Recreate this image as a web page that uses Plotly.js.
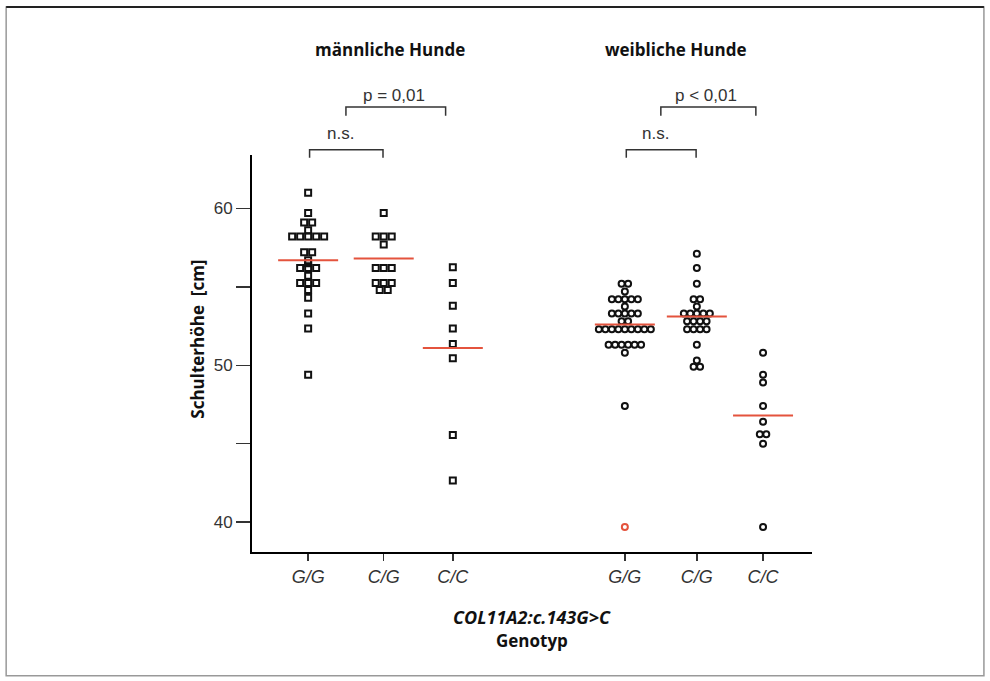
<!DOCTYPE html>
<html>
<head>
<meta charset="utf-8">
<script src="https://cdn.plot.ly/plotly-3.0.1.min.js"></script>
<style>
  html, body { margin: 0; padding: 0; background: #fff; }
  #chart { width: 990px; height: 681px; }
</style>
</head>
<body>
<div id="chart"></div>
<script>
// ---------- data ----------
const genotypes = ['G/G', 'C/G', 'C/C'];
const groupTitles = ['männliche Hunde', 'weibliche Hunde'];

// male dogs (squares), shoulder height in cm
const maleGG = [61.0, 59.7, 59.1, 59.1, 58.6, 58.2, 58.2, 58.2, 58.2, 58.2,
                57.2, 57.2, 56.7, 56.5, 56.2, 56.2, 56.2, 55.7,
                55.25, 55.25, 55.25, 54.8, 54.3, 53.3, 52.35, 49.4];
const maleCG = [59.7, 58.2, 58.2, 58.2, 57.7, 56.2, 56.2, 56.2,
                55.25, 55.25, 55.25, 54.8, 54.8];
const maleCC = [56.25, 55.25, 53.8, 52.35, 51.35, 50.45, 45.55, 42.65];

// female dogs (circles)
const femaleGG = [55.2, 55.2, 54.7, 54.2, 54.2, 54.2, 54.2, 54.2, 53.75,
                  53.3, 53.3, 53.3, 53.3, 53.3, 52.8, 52.8,
                  52.3, 52.3, 52.3, 52.3, 52.3, 52.3, 52.3, 52.3, 52.3,
                  51.3, 51.3, 51.3, 51.3, 51.3, 51.3, 50.8, 47.4];
const femaleGGOutlier = [39.7];
const femaleCG = [57.1, 56.2, 55.2, 54.2, 54.2, 53.75,
                  53.3, 53.3, 53.3, 53.3, 53.3,
                  52.8, 52.8, 52.8, 52.8, 52.3, 52.3, 52.3, 52.3,
                  51.3, 50.3, 49.9, 49.9];
const femaleCC = [50.8, 49.4, 48.9, 47.4, 46.4, 45.6, 45.6, 45.0, 39.7];

// group means (red bars)
const maleMeans = [56.7, 56.8, 51.1];
const femaleMeans = [52.6, 53.1, 46.8];

// significance labels
const maleTests = ['n.s.', 'p = 0,01'];
const femaleTests = ['n.s.', 'p < 0,01'];

const yTickValues = [40, 45, 50, 55, 60];
const yTickLabels = ['40', '', '50', '', '60'];

// ---------- layout constants ----------
const X_RANGE = [0.22, 8.0];
const PLOT_W = 560;
const PX = PLOT_W / (X_RANGE[1] - X_RANGE[0]);   // px per x unit
const malePos = [1.0, 2.05, 3.01];
const femalePos = [5.40, 6.40, 7.32];
const titleX = [2.137, 6.109];
const MEAN_HALF = 30 / PX;
const RED = '#e4533d';
const INK = '#111';

function swarm(values, center, spacingPx) {
  const counts = {};
  values.forEach(v => { counts[v] = (counts[v] || 0) + 1; });
  const seen = {};
  return values.map(v => {
    seen[v] = seen[v] === undefined ? 0 : seen[v] + 1;
    return center + (seen[v] - (counts[v] - 1) / 2) * spacingPx / PX;
  });
}

const traces = [];
function addGroup(values, center, symbol, color, spacing) {
  traces.push({
    type: 'scatter', mode: 'markers',
    x: swarm(values, center, spacing), y: values,
    marker: { symbol: symbol, size: 6, color: color, line: { width: 2, color: color } },
    hoverinfo: 'y', showlegend: false, cliponaxis: false
  });
}
[maleGG, maleCG, maleCC].forEach((v, i) => addGroup(v, malePos[i], 'square-open', INK, 8));
[femaleGG, femaleCG, femaleCC].forEach((v, i) => addGroup(v, femalePos[i], 'circle-open', INK, 6.5));
addGroup(femaleGGOutlier, femalePos[0], 'circle-open', RED, 6.5);

function addMean(m, c) {
  traces.push({
    type: 'scatter', mode: 'lines',
    x: [c - MEAN_HALF, c + MEAN_HALF], y: [m, m],
    line: { color: RED, width: 2 }, hoverinfo: 'skip', showlegend: false
  });
}
maleMeans.forEach((m, i) => addMean(m, malePos[i]));
femaleMeans.forEach((m, i) => addMean(m, femalePos[i]));

// ---------- annotations & shapes ----------
const boldFont = { family: 'Open Sans, sans-serif', size: 17, color: INK, weight: 'bold' };
const plainFont = { family: 'Liberation Sans, Arial, sans-serif', size: 17, color: '#333' };

const annotations = [];
const shapes = [];

function bracket(x1, x2, yTop, yBot) {
  shapes.push({
    type: 'path', xref: 'x', yref: 'paper',
    path: `M ${x1},${yBot} L ${x1},${yTop} L ${x2},${yTop} L ${x2},${yBot}`,
    line: { color: '#333', width: 1.5 }
  });
}

function groupAnnotations(pos, title, tests, tx) {
  annotations.push({ xref: 'x', yref: 'paper', x: tx, y: 1.265,
    text: '<b>' + title + '</b>', showarrow: false, font: boldFont, yanchor: 'middle' });
  // n.s. bracket between G/G and C/G
  bracket(pos[0] + 0.02, pos[1] - 0.01, 1.013, 0.993);
  annotations.push({ xref: 'x', yref: 'paper', x: (pos[0] + pos[1]) / 2 - 0.08, y: 1.055,
    text: tests[0], showarrow: false, font: plainFont, yanchor: 'middle' });
  // p bracket
  const pL = (pos[0] + pos[1]) / 2 + 0.0;
  bracket(pL, pos[2] - 0.1, 1.121, 1.099);
  annotations.push({ xref: 'x', yref: 'paper', x: (pL + pos[2]) / 2 - 0.08, y: 1.150,
    text: tests[1], showarrow: false, font: plainFont, yanchor: 'middle' });
}
groupAnnotations(malePos, groupTitles[0], maleTests, titleX[0]);
groupAnnotations(femalePos, groupTitles[1], femaleTests, titleX[1]);

// axis titles
annotations.push({ xref: 'paper', yref: 'paper', x: -0.098, y: 0.535, textangle: -90,
  text: '<b>Schulterhöhe\u00a0\u00a0[cm]</b>', showarrow: false, font: boldFont,
  xanchor: 'center', yanchor: 'middle' });
annotations.push({ xref: 'paper', yref: 'paper', x: 0.5, y: -0.164,
  text: '<b><i>COL11A2:c.143G&gt;C</i></b>', showarrow: false,
  font: Object.assign({}, boldFont, { size: 18 }), yanchor: 'middle' });
annotations.push({ xref: 'paper', yref: 'paper', x: 0.5, y: -0.222,
  text: '<b>Genotyp</b>', showarrow: false, font: boldFont, yanchor: 'middle' });

// frame around the figure
shapes.push({ type: 'rect', xref: 'paper', yref: 'paper', x0: -0.439, x1: 1.307, y0: -0.312, y1: 1.373,
  line: { color: '#999', width: 1.5 } });
shapes.push({ type: 'line', xref: 'paper', yref: 'paper', x0: -0.439, x1: 1.307, y0: 1.373, y1: 1.373,
  line: { color: '#222', width: 2 } });

const layout = {
  width: 990, height: 681,
  margin: { l: 252, r: 178, t: 155, b: 129 },
  paper_bgcolor: '#fff', plot_bgcolor: '#fff',
  showlegend: false,
  xaxis: {
    range: X_RANGE, showgrid: false, zeroline: false,
    showline: true, linecolor: '#000', linewidth: 2,
    ticks: 'outside', ticklen: 7, tickwidth: 1.5, tickcolor: '#333',
    tickvals: malePos.concat(femalePos),
    ticktext: genotypes.concat(genotypes).map(t => '<i>' + t + '</i>'),
    tickfont: { family: 'Liberation Sans, Arial, sans-serif', size: 18, color: '#333' }
  },
  yaxis: {
    range: [38.1, 63.4], showgrid: false, zeroline: false,
    showline: true, linecolor: '#000', linewidth: 2,
    ticks: 'outside', ticklen: 14, tickwidth: 1.5, tickcolor: '#333',
    tickvals: yTickValues, ticktext: yTickLabels,
    tickfont: { family: 'Liberation Sans, Arial, sans-serif', size: 17, color: '#333' }
  },
  annotations: annotations,
  shapes: shapes
};

Plotly.newPlot('chart', traces, layout, { displayModeBar: false, staticPlot: true });
</script>
</body>
</html>
